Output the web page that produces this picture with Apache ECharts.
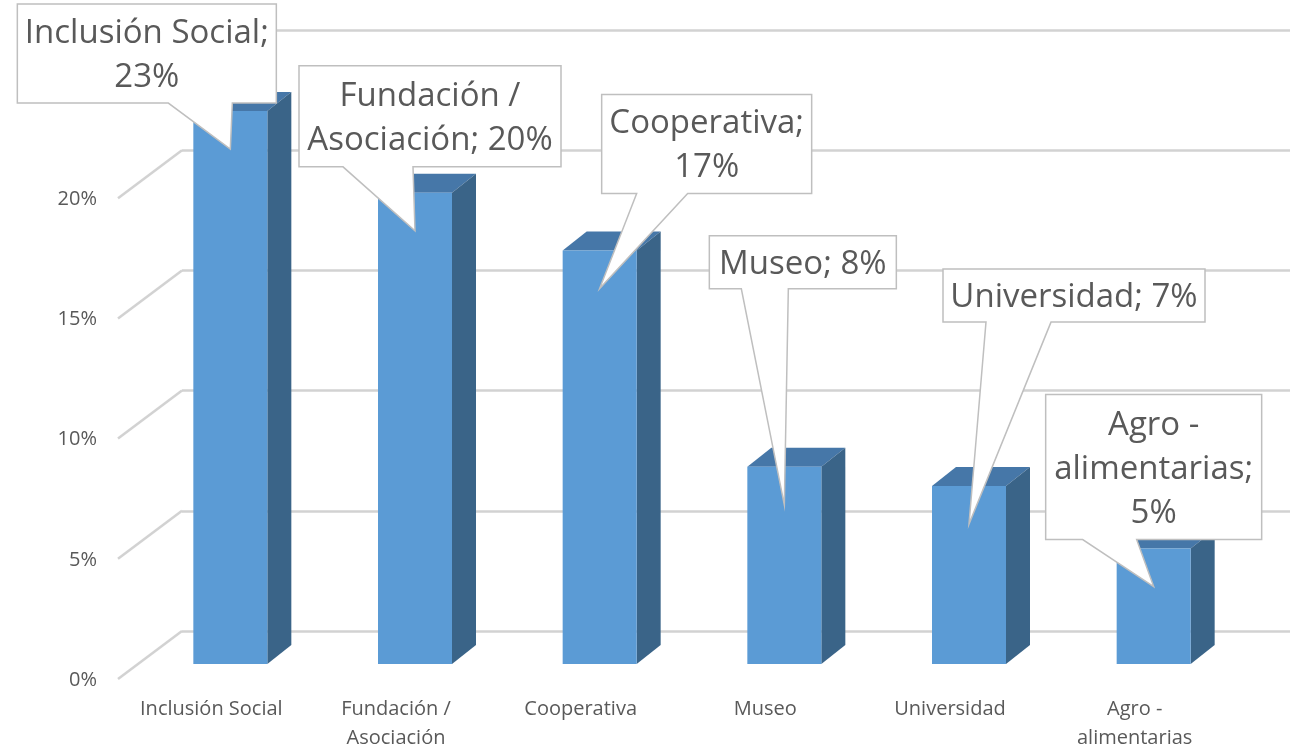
<!DOCTYPE html>
<html>
<head>
<meta charset="utf-8">
<title>Distribución por tipo de entidad</title>
<script src="https://cdn.jsdelivr.net/npm/echarts@6/dist/echarts.min.js"></script>
<style>
  html, body { margin: 0; padding: 0; background: #fff; }
  #main { width: 1294px; height: 749px; }
</style>
</head>
<body>
<div id="main"></div>
<script>
// datos
var categories = ['Inclusión Social', 'Fundación /\nAsociación', 'Cooperativa', 'Museo', 'Universidad', 'Agro -\nalimentarias'];
var shares = [0.23, 0.196, 0.172, 0.082, 0.074, 0.048];
var yTicks = [0, 0.05, 0.10, 0.15, 0.20, 0.25];

// separador entre nombre y porcentaje en cada globo
var calloutSep = ['\n', ' ', '\n', ' ', ' ', '\n'];

// geometría del falso 3D (pixeles)
var FRONT_X = -44, FRONT_Y = 33;   // pared del fondo -> cara frontal de la barra
var DEPTH_X = 24, DEPTH_Y = -19;   // profundidad de la barra
var FLOOR_X = -64, FLOOR_Y = 48;   // borde delantero del suelo
var BAR_W = 74;
var TIP_OFF = 38;

// globos: caja y base de la flecha relativas a la punta
var calloutBoxes = [
  { box: [-213, -145, 46, -46], base: [-62, 2] },
  { box: [-116, -165, 146, -64], base: [-72, -2] },
  { box: [2, -194, 212, -95], base: [37, 88] },
  { box: [-75, -269, 112, -216], base: [-43, 4] },
  { box: [-26, -255, 236, -202], base: [17, 82] },
  { box: [-108, -192, 108, -47], base: [-71, -17] }
];

var FONT = '"Open Sans", "Noto Sans", sans-serif';
var TEXT_COLOR = '#595959';
var GRID_COLOR = '#d2d2d2';

function pct(v) {
  return Math.round(v * 100) + '%';
}

var barData = shares.map(function (v, i) { return [i, v]; });

function frontOf(api) {
  var i = api.value(0), v = api.value(1);
  var back = api.coord([i, v]);
  var base = api.coord([i, 0]);
  return {
    cx: back[0] + FRONT_X,
    top: back[1] + FRONT_Y,
    bot: base[1] + FRONT_Y
  };
}

// linea del suelo/pared izquierda + etiqueta del eje Y
function renderFloorLine(params, api) {
  var v = api.value(1);
  var y = api.coord([0, v])[1];
  var x0 = params.coordSys.x;
  return {
    type: 'group',
    children: [
      {
        type: 'line',
        shape: { x1: x0, y1: y, x2: x0 + FLOOR_X, y2: y + FLOOR_Y },
        style: { stroke: GRID_COLOR, lineWidth: 2.5 }
      },
      {
        type: 'text',
        style: {
          text: pct(v),
          x: x0 + FLOOR_X - 21,
          y: y + FLOOR_Y + 1,
          align: 'right',
          verticalAlign: 'middle',
          fontSize: 20,
          fontFamily: FONT,
          fill: TEXT_COLOR
        }
      }
    ]
  };
}

function renderBar(params, api) {
  var f = frontOf(api);
  var l = f.cx - BAR_W / 2, r = f.cx + BAR_W / 2;
  return {
    type: 'group',
    children: [
      {
        type: 'polygon',
        shape: { points: [[l, f.top], [r, f.top], [r + DEPTH_X, f.top + DEPTH_Y], [l + DEPTH_X, f.top + DEPTH_Y]] },
        style: { fill: '#4677a8' }
      },
      {
        type: 'polygon',
        shape: { points: [[r, f.top], [r + DEPTH_X, f.top + DEPTH_Y], [r + DEPTH_X, f.bot + DEPTH_Y], [r, f.bot]] },
        style: { fill: '#3a6488' }
      },
      {
        type: 'rect',
        shape: { x: l, y: f.top, width: BAR_W, height: f.bot - f.top },
        style: { fill: '#5b9bd5' }
      }
    ]
  };
}

function renderCallout(params, api) {
  var i = params.dataIndex;
  var f = frontOf(api);
  var tx = f.cx, ty = f.top + TIP_OFF;
  var c = calloutBoxes[i];
  var x1 = tx + c.box[0], y1 = ty + c.box[1], x2 = tx + c.box[2], y2 = ty + c.box[3];
  var txt = categories[i] + ';' + calloutSep[i] + pct(api.value(1));
  return {
    type: 'group',
    children: [
      {
        type: 'polygon',
        shape: {
          points: [[x1, y1], [x2, y1], [x2, y2], [tx + c.base[1], y2], [tx, ty], [tx + c.base[0], y2], [x1, y2]]
        },
        style: { fill: '#ffffff', stroke: '#bfbfbf', lineWidth: 1.5 }
      },
      {
        type: 'text',
        style: {
          text: txt,
          x: (x1 + x2) / 2,
          y: (y1 + y2) / 2 + 2,
          align: 'center',
          verticalAlign: 'middle',
          fontSize: 33,
          fontFamily: FONT,
          lineHeight: 44,
          fill: TEXT_COLOR
        }
      }
    ]
  };
}

var chart = echarts.init(document.getElementById('main'));

var option = {
  backgroundColor: '#ffffff',
  animation: false,
  grid: { left: 182, right: 4, top: 30, bottom: 118, containLabel: false, outerBoundsMode: 'none' },
  xAxis: {
    type: 'category',
    data: categories,
    axisLine: { show: false },
    axisTick: { show: false },
    splitLine: { show: false },
    axisLabel: {
      interval: 0,
      margin: 64,
      padding: [0, 126, 0, 0],
      fontSize: 20,
      lineHeight: 29,
      fontFamily: FONT,
      color: TEXT_COLOR
    }
  },
  yAxis: {
    type: 'value',
    min: 0,
    max: 0.25,
    interval: 0.05,
    axisLine: { show: false },
    axisTick: { show: false },
    axisLabel: { show: false },
    splitLine: { lineStyle: { color: GRID_COLOR, width: 2.5 } }
  },
  series: [
    {
      type: 'custom',
      clip: false,
      z: 1,
      silent: true,
      data: yTicks.map(function (v) { return [0, v]; }),
      renderItem: renderFloorLine
    },
    {
      type: 'custom',
      clip: false,
      z: 3,
      data: barData,
      renderItem: renderBar
    },
    {
      type: 'custom',
      clip: false,
      z: 5,
      data: barData,
      renderItem: renderCallout
    }
  ]
};

chart.setOption(option);
</script>
</body>
</html>
